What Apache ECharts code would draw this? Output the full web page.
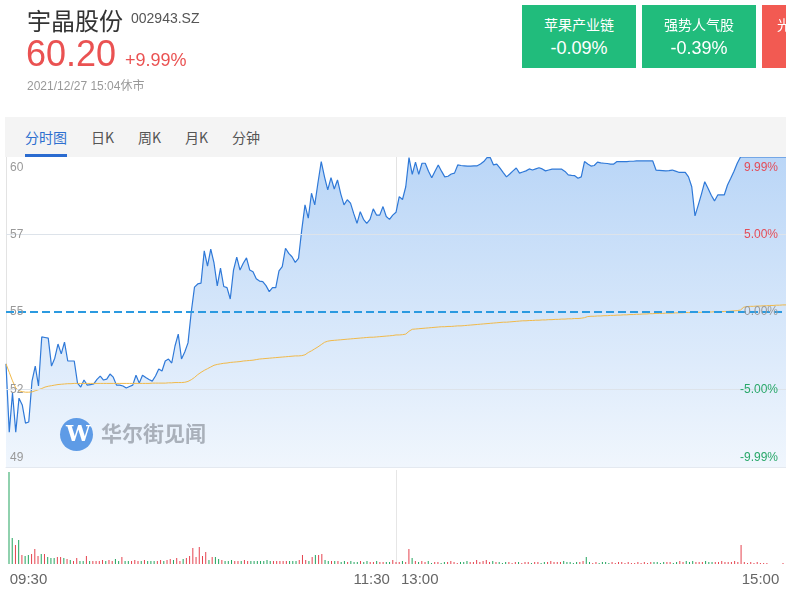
<!DOCTYPE html>
<html>
<head>
<meta charset="utf-8">
<script src="https://cdn.jsdelivr.net/npm/echarts@6/dist/echarts.min.js"></script>
<style>
  html, body { margin:0; padding:0; background:#fff; width:786px; height:591px; overflow:hidden;
    font-family: Arial, "Liberation Sans", "Noto Sans CJK SC", sans-serif; }
  #chart { position:absolute; left:0; top:0; width:786px; height:591px; z-index:0; }
  .abs { position:absolute; z-index:2; white-space:nowrap; }
  .name { left:27px; top:2px; font-size:24px; color:#333; font-family:"Noto Sans CJK SC", sans-serif; }
  .code { left:131px; top:10px; font-size:14px; color:#555; }
  .price { left:26px; top:33px; font-size:36px; color:#ea5252; }
  .chg { left:125px; top:50px; font-size:18px; color:#ea5252; }
  .time { left:27px; top:76px; font-size:12px; color:#999; }
  .card { position:absolute; z-index:2; top:5px; width:114px; height:63px; color:#fff; text-align:center; overflow:hidden; }
  .card .t { margin-top:10px; font-size:14px; font-family:"Noto Sans CJK SC", sans-serif; line-height:18px; }
  .card .v { margin-top:5px; font-size:18px; line-height:20px; }
  .tabs { position:absolute; z-index:1; left:5px; top:117px; width:781px; height:40px; background:#f4f4f4; }
  .tab { position:absolute; top:11px; font-size:14px; color:#555; font-family:"Noto Sans CJK SC", sans-serif; line-height:18px; }
  .tab.on { color:#2d6fcf; }
  .ul { position:absolute; left:20px; top:37px; width:42px; height:3px; background:#2a6bd0; }
</style>
</head>
<body>
<div id="chart"></div>
<div class="abs name">宇晶股份</div>
<div class="abs code">002943.SZ</div>
<div class="abs price">60.20</div>
<div class="abs chg">+9.99%</div>
<div class="abs time">2021/12/27 15:04休市</div>
<div class="card" style="left:522px;background:#21bc7c;"><div class="t">苹果产业链</div><div class="v">-0.09%</div></div>
<div class="card" style="left:642px;background:#21bc7c;"><div class="t">强势人气股</div><div class="v">-0.39%</div></div>
<div class="card" style="left:762px;background:#f25a52;"><div class="t">光伏概念板块</div><div class="v">+1.25%</div></div>
<div class="tabs">
  <div class="tab on" style="left:20px;">分时图</div>
  <div class="tab" style="left:86px;">日K</div>
  <div class="tab" style="left:133px;">周K</div>
  <div class="tab" style="left:180px;">月K</div>
  <div class="tab" style="left:227px;">分钟</div>
  <div class="ul"></div>
</div>
<script>
// ---------- data ----------
const prevClose = 54.73;
const limitUp = 60.20;
const limitDown = 49.26;
const pctTicks = [-9.99, -5, 0, 5, 9.99];
const sessionLabels = ['09:30', '11:30', '13:00', '15:00'];

const priceAM = [
  52.90, 50.49, 51.87, 50.49, 51.69, 51.45, 50.81, 50.85, 52.29, 52.82,
  52.12, 53.85, 53.83, 53.81, 52.82, 53.10, 53.60, 53.25, 53.67, 53.00,
  53.00, 53.00, 52.22, 52.08, 52.33, 52.15, 52.17, 52.19, 52.35, 52.47,
  52.33, 52.36, 52.54, 52.43, 52.15, 52.15, 52.12, 52.05, 52.10, 52.15,
  52.50, 52.22, 52.50, 52.42, 52.35, 52.29, 52.47, 52.72, 52.65, 53.00,
  53.07, 52.93, 53.53, 53.95, 53.07, 53.32, 53.64, 54.73, 55.61, 55.72,
  55.75, 56.89, 56.35, 56.95, 56.46, 55.65, 56.28, 55.63, 55.59, 55.19,
  56.21, 56.67, 56.21, 56.45, 56.64, 56.21, 56.15, 55.90, 55.82, 55.80,
  55.66, 55.45, 55.59, 55.59, 56.18, 56.33, 56.98, 56.80, 56.68, 56.48,
  56.62, 57.63, 58.51, 58.04, 58.92, 58.51, 59.30, 60.04, 59.50, 59.04,
  59.47, 59.07, 59.39, 58.90, 58.51, 58.69, 58.57, 58.20, 57.86, 58.27,
  58.00, 57.86, 58.00, 58.37, 58.15, 58.15, 58.45, 58.10, 58.00, 58.15,
  58.25
];
const pricePM = [
  58.80, 58.70, 59.15, 60.18, 59.59, 60.02, 59.59, 59.98, 59.98, 59.70,
  59.47, 59.70, 59.92, 59.70, 59.50, 59.52, 59.60, 59.63, 59.92, 59.90,
  59.89, 59.88, 59.88, 59.89, 59.89, 59.95, 60.04, 60.18, 60.18, 59.92,
  59.95, 59.81, 59.65, 59.50, 59.60, 59.71, 59.81, 59.63, 59.67, 59.71,
  59.78, 59.74, 59.78, 59.82, 59.78, 59.71, 59.74, 59.77, 59.77, 59.77,
  59.77, 59.69, 59.57, 59.55, 59.54, 59.45, 59.50, 60.04, 59.95, 59.88,
  59.90, 60.02, 59.99, 59.98, 59.97, 59.95, 59.95, 60.04, 60.04, 60.04,
  60.04, 60.05, 60.05, 60.06, 60.06, 60.06, 60.06, 60.06, 60.06, 59.74,
  59.73, 59.72, 59.71, 59.72, 59.74, 59.70, 59.66, 59.66, 59.66, 59.50,
  59.15, 58.12, 58.50, 58.90, 59.33, 59.10, 58.85, 58.65, 58.86, 58.86,
  58.86, 59.21, 59.45, 59.70, 59.98, 60.20, 60.20, 60.20, 60.20, 60.20,
  60.20, 60.20, 60.20, 60.20, 60.20, 60.20, 60.20, 60.20, 60.20, 60.20
];
const avgAM = [
  52.90, 52.60, 52.30, 52.05, 51.95, 51.92, 51.90, 51.90, 51.91, 51.95,
  51.99, 52.03, 52.08, 52.11, 52.13, 52.15, 52.17, 52.18, 52.19, 52.20,
  52.20, 52.21, 52.21, 52.21, 52.21, 52.21, 52.21, 52.21, 52.21, 52.21,
  52.21, 52.21, 52.21, 52.21, 52.21, 52.21, 52.21, 52.21, 52.21, 52.21,
  52.21, 52.21, 52.21, 52.21, 52.21, 52.22, 52.22, 52.22, 52.22, 52.22,
  52.23, 52.23, 52.24, 52.24, 52.24, 52.25, 52.28, 52.34, 52.42, 52.52,
  52.60, 52.67, 52.73, 52.79, 52.85, 52.88, 52.90, 52.92, 52.93, 52.95,
  52.96, 52.97, 52.98, 53.00, 53.01, 53.02, 53.03, 53.05, 53.07, 53.08,
  53.09, 53.10, 53.11, 53.12, 53.13, 53.14, 53.15, 53.16, 53.17, 53.18,
  53.18, 53.19, 53.22, 53.30, 53.36, 53.43, 53.50, 53.58, 53.66, 53.70,
  53.72, 53.73, 53.74, 53.75, 53.76, 53.77, 53.78, 53.79, 53.80, 53.81,
  53.82, 53.83, 53.84, 53.84, 53.85, 53.86, 53.87, 53.88, 53.89, 53.90,
  53.92
];
const avgPM = [
  53.92, 53.93, 53.95, 54.05, 54.12, 54.13, 54.14, 54.15, 54.16, 54.17,
  54.18, 54.19, 54.20, 54.21, 54.21, 54.22, 54.22, 54.23, 54.24, 54.24,
  54.25, 54.26, 54.27, 54.28, 54.29, 54.30, 54.31, 54.32, 54.33, 54.34,
  54.35, 54.36, 54.37, 54.37, 54.38, 54.39, 54.40, 54.41, 54.42, 54.42,
  54.43, 54.43, 54.44, 54.44, 54.45, 54.45, 54.46, 54.46, 54.47, 54.47,
  54.48, 54.48, 54.49, 54.49, 54.50, 54.50, 54.51, 54.53, 54.57, 54.58,
  54.58, 54.59, 54.59, 54.60, 54.60, 54.61, 54.61, 54.62, 54.62, 54.63,
  54.63, 54.64, 54.64, 54.65, 54.65, 54.66, 54.66, 54.67, 54.67, 54.68,
  54.68, 54.68, 54.69, 54.69, 54.69, 54.70, 54.70, 54.70, 54.71, 54.71,
  54.71, 54.72, 54.72, 54.72, 54.73, 54.73, 54.73, 54.74, 54.74, 54.74,
  54.75, 54.75, 54.76, 54.77, 54.78, 54.80, 54.90, 54.92, 54.93, 54.93,
  54.94, 54.94, 54.95, 54.95, 54.96, 54.96, 54.97, 54.97, 54.98, 54.98
];
const volumeAM = [
  9200, 2600, 1900, 2400, 900, 800, 900, 1000, 1500, 800,
  1000, 1000, 700, 600, 600, 700, 700, 600, 500, 400,
  300, 600, 300, 300, 800, 300, 300, 300, 300, 400,
  300, 400, 300, 500, 300, 700, 300, 300, 300, 400,
  300, 300, 400, 300, 300, 300, 300, 400, 300, 400,
  500, 400, 600, 300, 500, 600, 800, 1600, 700, 1700,
  800, 1200, 400, 700, 700, 500, 400, 300, 300, 400,
  300, 300, 300, 400, 300, 300, 300, 300, 300, 300,
  400, 300, 300, 300, 300, 300, 300, 300, 300, 300,
  400, 900, 400, 300, 700, 900, 900, 1000, 400, 300,
  300, 300, 300, 200, 300, 200, 300, 200, 200, 300,
  200, 300, 200, 200, 300, 200, 200, 200, 200, 400,
  200
];
const volumePM = [
  200, 300, 200, 1500, 600, 300, 200, 300, 200, 300,
  100, 200, 200, 100, 200, 200, 300, 200, 100, 200,
  200, 300, 200, 200, 400, 200, 300, 400, 200, 300,
  200, 200, 100, 200, 200, 100, 200, 200, 100, 200,
  200, 100, 200, 200, 100, 200, 200, 300, 200, 200,
  200, 300, 200, 200, 100, 200, 200, 300, 700, 200,
  100, 200, 100, 200, 200, 100, 200, 100, 200, 200,
  100, 200, 100, 100, 200, 100, 200, 100, 200, 200,
  200, 100, 200, 200, 200, 100, 200, 300, 200, 300,
  200, 300, 200, 200, 200, 300, 200, 200, 200, 200,
  300, 200, 200, 200, 300, 200, 1900, 200, 100, 200,
  100, 200, 100, 100, 100, 0, 0, 0, 0, 100
];

// ---------- derived tables ----------
const pad = n => (n < 10 ? '0' : '') + n;
const times = [];
for (let m = 9 * 60 + 30; m <= 11 * 60 + 30; m++) times.push(pad(Math.floor(m / 60)) + ':' + pad(m % 60));
for (let m = 13 * 60 + 1; m <= 15 * 60; m++) times.push(pad(Math.floor(m / 60)) + ':' + pad(m % 60));
const price = priceAM.concat(pricePM);
const avg = avgAM.concat(avgPM);
const volume = volumeAM.concat(volumePM);
const midIdx = priceAM.length - 1;
const lastIdx = price.length - 1;

const UP = '#e5434f', DOWN = '#22a45e';
const volData = volume.map((v, i) => {
  const prev = i === 0 ? prevClose : price[i - 1];
  return { value: v, itemStyle: { color: price[i] >= prev ? UP : DOWN } };
});

const tickPrices = pctTicks.map(p => p === 9.99 ? limitUp : p === -9.99 ? limitDown : prevClose * (1 + p / 100));
const isMax = v => Math.abs(v - limitUp) < 1e-6;
const isMin = v => Math.abs(v - limitDown) < 1e-6;

const chart = echarts.init(document.getElementById('chart'), null, { renderer: 'canvas' });
const labelFont = 'Arial, "Liberation Sans", sans-serif';

chart.setOption({
  animation: false,
  grid: [
    { left: 6, right: 0, top: 157, height: 310 },
    { left: 9, right: 3, top: 470, height: 94 }
  ],
  xAxis: [
    {
      type: 'category', gridIndex: 0, data: times, boundaryGap: false,
      axisLine: { show: true, lineStyle: { color: '#e4e9f0' } },
      axisTick: { show: false }, axisLabel: { show: false },
      splitLine: { show: true, interval: (i) => i === 0 || i === midIdx, lineStyle: { color: '#e3e3e3', width: 1 } }
    },
    {
      type: 'category', gridIndex: 1, data: times, boundaryGap: false,
      axisLine: { show: false }, axisTick: { show: false },
      splitLine: { show: true, interval: (i) => i === midIdx, lineStyle: { color: '#e6e6e6', width: 1 } },
      axisLabel: {
        show: true, margin: 8, color: '#666', fontSize: 15, fontFamily: labelFont,
        interval: (i) => i === 0 || i === midIdx || i === lastIdx,
        formatter: (val, i) => {
          if (i === 0) return '{l|' + sessionLabels[0] + '}';
          if (i === midIdx) return '{a|' + sessionLabels[1] + '}{b|' + sessionLabels[2] + '}';
          return '{r|' + sessionLabels[3] + '}';
        },
        rich: {
          l: { color: '#666', fontSize: 15, fontFamily: labelFont, padding: [0, 0, 0, 39] },
          a: { color: '#666', fontSize: 15, fontFamily: labelFont },
          b: { color: '#666', fontSize: 15, fontFamily: labelFont, padding: [0, 0, 0, 11] },
          r: { color: '#666', fontSize: 15, fontFamily: labelFont, padding: [0, 45, 0, 0] }
        }
      }
    }
  ],
  yAxis: [
    {
      type: 'value', gridIndex: 0, min: limitDown, max: limitUp, z: 20,
      axisLine: { show: false }, axisTick: { show: false }, splitLine: { show: false },
      axisLabel: {
        inside: true, margin: 4, customValues: tickPrices, color: '#999', fontSize: 12, fontFamily: labelFont,
        formatter: (v) => {
          const t = String(Math.round(v));
          if (isMax(v)) return '{t|' + t + '}';
          if (isMin(v)) return '{b|' + t + '}';
          return '{m|' + t + '}';
        },
        rich: {
          t: { color: '#999', fontSize: 12, fontFamily: labelFont, padding: [22, 0, 0, 0] },
          b: { color: '#999', fontSize: 12, fontFamily: labelFont, padding: [0, 0, 19, 0] },
          m: { color: '#999', fontSize: 12, fontFamily: labelFont }
        }
      }
    },
    {
      type: 'value', gridIndex: 0, position: 'right', min: limitDown, max: limitUp, z: 20,
      axisLine: { show: false }, axisTick: { show: false }, splitLine: { show: false },
      axisLabel: {
        inside: true, margin: 8, customValues: tickPrices, fontSize: 12, fontFamily: labelFont,
        formatter: (v) => {
          const p = (v / prevClose - 1) * 100;
          const t = (Math.abs(p) < 0.001 ? 0 : p).toFixed(2) + '%';
          const k = p > 0.001 ? 'u' : p < -0.001 ? 'd' : 'z';
          const pos = isMax(v) ? 'T' : isMin(v) ? 'B' : '';
          return '{' + k + pos + '|' + t + '}';
        },
        rich: {
          uT: { color: '#e34d59', fontSize: 12, fontFamily: labelFont, padding: [22, 0, 0, 0] },
          u: { color: '#e34d59', fontSize: 12, fontFamily: labelFont },
          z: { color: '#999', fontSize: 12, fontFamily: labelFont },
          d: { color: '#2aa86a', fontSize: 12, fontFamily: labelFont },
          dB: { color: '#2aa86a', fontSize: 12, fontFamily: labelFont, padding: [0, 0, 19, 0] }
        }
      }
    },
    {
      type: 'value', gridIndex: 1, min: 0, max: 9400,
      axisLine: { show: false }, axisTick: { show: false }, splitLine: { show: false }, axisLabel: { show: false }
    }
  ],
  graphic: [
    { type: 'circle', left: 60, top: 418, shape: { r: 16.5 }, style: { fill: '#5e9be6' }, z: 10 },
    { type: 'text', left: 66, top: 424, style: { text: 'W', fill: '#fff', font: 'bold 22px "DejaVu Serif", serif' }, z: 11 },
    { type: 'text', left: 101, top: 423, style: { text: '华尔街见闻', fill: '#a9b0ba', font: 'bold 21px "Noto Sans CJK SC", sans-serif' }, z: 10 }
  ],
  series: [
    {
      name: '价格', type: 'line', xAxisIndex: 0, yAxisIndex: 0, data: price,
      showSymbol: false, symbol: 'none', smooth: false, z: 3,
      lineStyle: { color: '#2f79d8', width: 1.2 },
      areaStyle: {
        opacity: 1,
        color: new echarts.graphic.LinearGradient(0, 0, 0, 1, [
          { offset: 0, color: '#bad6f7' },
          { offset: 1, color: '#f0f6fd' }
        ])
      },
      markLine: {
        silent: true, symbol: 'none', label: { show: false },
        data: [
          { yAxis: tickPrices[1], lineStyle: { color: '#dde3ea', width: 1, type: 'solid' } },
          { yAxis: tickPrices[3], lineStyle: { color: '#dde3ea', width: 1, type: 'solid' } },
          { yAxis: prevClose, lineStyle: { color: '#2b9ae0', width: 2, type: [8, 4] } }
        ]
      }
    },
    {
      name: '均价', type: 'line', xAxisIndex: 0, yAxisIndex: 0, data: avg,
      showSymbol: false, symbol: 'none', z: 4,
      lineStyle: { color: '#f0b94a', width: 1 }
    },
    {
      name: '成交量', type: 'bar', xAxisIndex: 1, yAxisIndex: 2, data: volData,
      barWidth: 1, silent: true
    }
  ]
});
</script>
</body>
</html>
